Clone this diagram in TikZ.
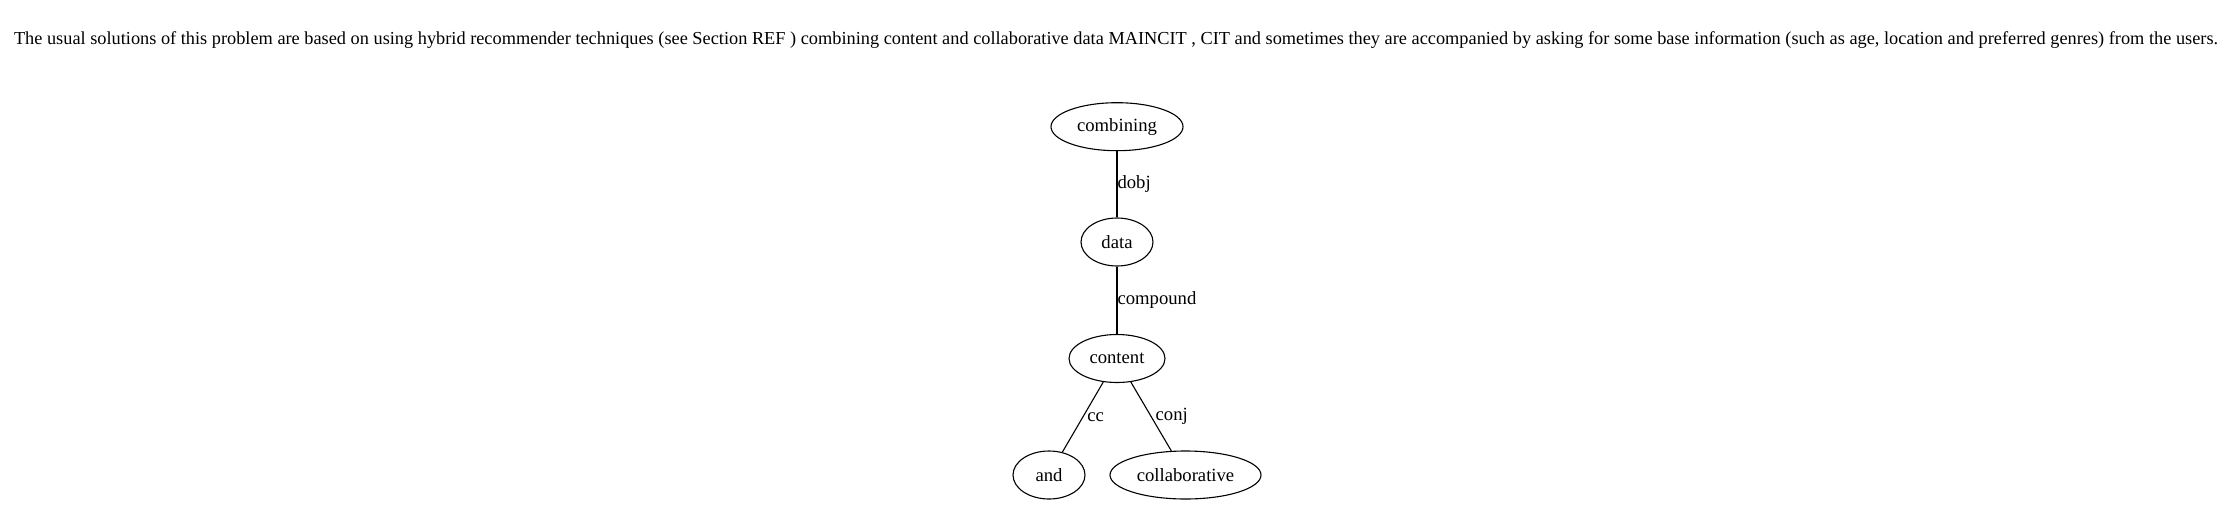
\documentclass[tikz,border=0pt]{standalone}
\usepackage{fontspec}
\setmainfont{Liberation Serif}
\usetikzlibrary{shapes.geometric}
\begin{document}
\begin{tikzpicture}[x=1pt,y=-1pt,
  word/.style={ellipse,draw,line width=1.1pt,inner sep=0pt,minimum height=48pt,font=\fontsize{18.67}{20}\selectfont},
  lbl/.style={anchor=west,inner sep=1pt,font=\fontsize{18.67}{20}\selectfont},
  edge/.style={line width=1.1pt}]
\useasboundingbox (0,0) rectangle (2235,504);
\node[font=\fontsize{18.67}{20}\selectfont,inner sep=0pt] (sent) at (1116,40) {\resizebox{2204pt}{!}{The usual solutions of this problem are based on using hybrid recommender techniques (see Section REF ) combining content and collaborative data MAINCIT , CIT and sometimes they are accompanied by asking for some base information (such as age, location and preferred genres) from the users.}};
\node[word,minimum width=132pt] (combining) at (1117,126.7) {combining};
\node[word,minimum width=72pt] (data) at (1117,242) {data};
\node[word,minimum width=96pt] (content) at (1117,358.5) {content};
\node[word,minimum width=72pt] (and) at (1049,475) {and};
\node[word,minimum width=151pt] (collab) at (1185.5,475) {collaborative};
\draw[edge] (combining) -- node[lbl,inner sep=0pt] {dobj} (data);
\draw[edge] (data) -- node[lbl,inner sep=0pt] {compound} (content);
\draw[edge] (content) -- node[lbl,inner sep=4pt] {cc} (and);
\draw[edge] (content) -- node[lbl,inner sep=4pt] {conj} (collab);
\end{tikzpicture}
\end{document}
